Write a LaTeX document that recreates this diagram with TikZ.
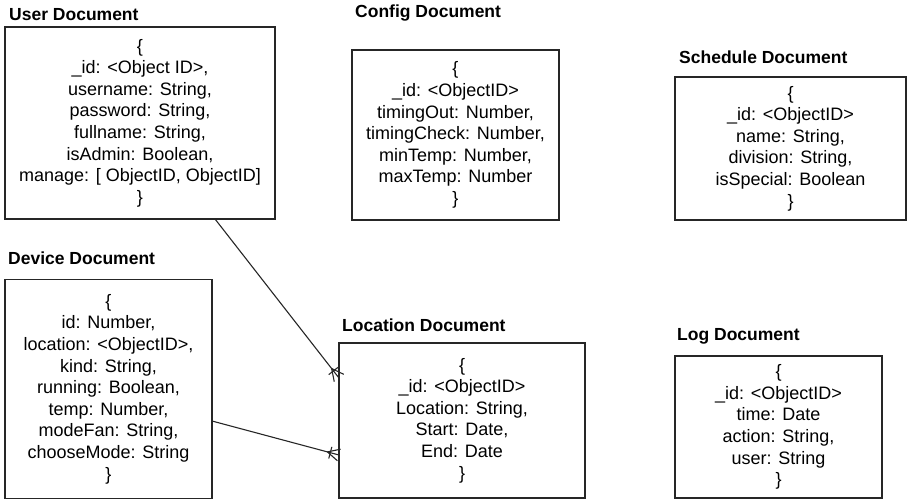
\documentclass[tikz,border=0pt]{standalone}
\usepackage{fontspec}
\setmainfont{Liberation Sans}
\usetikzlibrary{calc}
\begin{document}
\begin{tikzpicture}[x=1pt,y=-1pt,
  doc/.style={draw=black!85,line width=1.2pt,inner sep=0pt,outer sep=0pt,align=center,
    font=\fontsize{18}{21.6}\selectfont},
  title/.style={anchor=west,inner sep=0pt,font=\fontsize{17.5}{20}\selectfont\bfseries},
  conn/.style={draw=black!85,line width=1.1pt}]
\useasboundingbox (0,0) rectangle (907,500);
% titles
\node[title] (tuser) at (9,15) {User Document};
\node[title] (tconf) at (355,13) {Config Document};
\node[title] (tsched) at (679,57) {Schedule Document};
\node[title] (tdev) at (8,258) {Device Document};
\node[title] (tloc) at (342,325) {Location Document};
\node[title] (tlog) at (677,336) {Log Document};
% boxes
\node[doc,minimum width=270pt,minimum height=192pt] (user) at (140,123)
 {\{\\\_id: <Object ID>,\\username: String,\\password: String,\\fullname: String,\\isAdmin: Boolean,\\manage: [ ObjectID, ObjectID]\\\}};
\node[doc,minimum width=207pt,minimum height=170pt] (conf) at (455.5,135)
 {\{\\\_id: <ObjectID>\\timingOut: Number,\\timingCheck: Number,\\minTemp: Number,\\maxTemp: Number\\\}};
\node[doc,minimum width=231pt,minimum height=143pt] (sched) at (790.5,148.5)
 {\{\\\_id: <ObjectID>\\name: String,\\division: String,\\isSpecial: Boolean\\\}};
\node[doc,minimum width=207pt,minimum height=219pt] (dev) at (108.5,389)
 {\{\\id: Number,\\location: <ObjectID>,\\kind: String,\\running: Boolean,\\temp: Number,\\modeFan: String,\\chooseMode: String\\\}};
\node[doc,minimum width=246pt,minimum height=155pt] (loc) at (462,420.5)
 {\{\\\_id: <ObjectID>\\Location: String,\\Start: Date,\\End: Date\\\}};
\node[doc,minimum width=207pt,minimum height=142pt] (log) at (778.5,427)
 {\{\\\_id: <ObjectID>\\time: Date\\action: String,\\user: String\\\}};
% connectors
\coordinate (a1) at (user.-52);
\coordinate (b1) at ([yshift=42.5pt]loc.west);
\coordinate (a2) at ([yshift=-32pt]dev.east);
\coordinate (b2) at ([yshift=-34.5pt]loc.west);
\foreach \s/\e in {a1/b1,a2/b2}{
  \draw[conn] (\s) -- (\e);
  \draw[conn] ($(\e)!12pt!(\s)$) -- ($(\e)!6pt!90:(\s)$);
  \draw[conn] ($(\e)!12pt!(\s)$) -- ($(\e)!6pt!-90:(\s)$);
  \draw[conn] ($(\e)!9pt!(\s)!6pt!90:(\s)$) -- ($(\e)!9pt!(\s)!6pt!-90:(\s)$);
}
\end{tikzpicture}
\end{document}
